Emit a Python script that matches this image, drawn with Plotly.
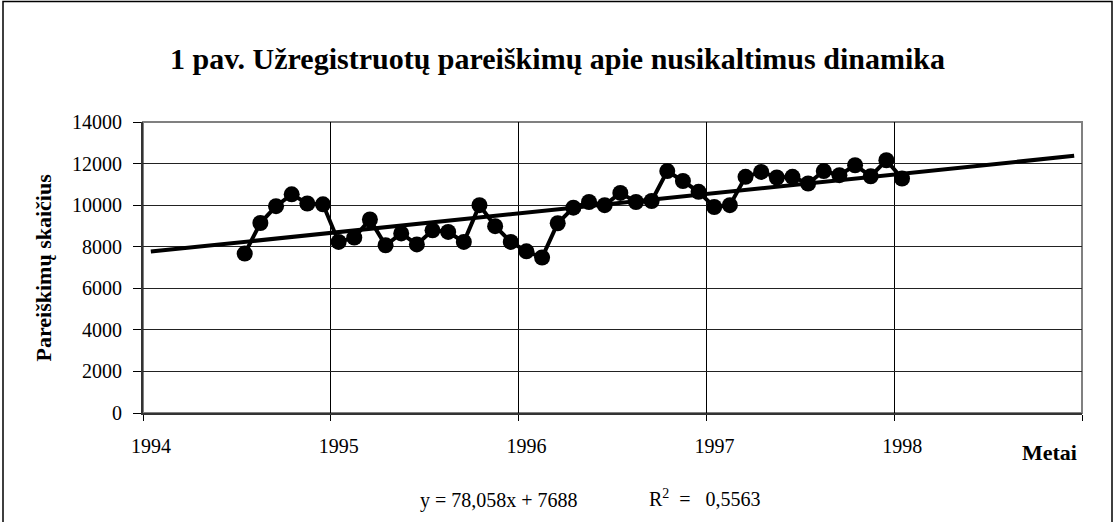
import plotly.graph_objects as go

# ---- data ----
start_year = 1994
first_month_index = 6          # July 1994 (0 = January 1994)
values = [7670, 9140, 9950, 10520, 10080, 10040,            # Jul-Dec 1994
          8230, 8440, 9310, 8070, 8640, 8110, 8790, 8710,   # 1995
          8230, 10000, 8990, 8230,
          7780, 7480, 9130, 9880, 10150, 10000, 10590,      # 1996
          10150, 10200, 11640, 11160, 10640,
          9910, 10000, 11360, 11600, 11330, 11360, 11040,  # 1997
          11640, 11440, 11920, 11390, 12160,
          11280]                                            # Jan 1998
n_categories = 60
trend_slope = 78.058
trend_intercept = 7688
r_squared = "0,5563"
year_ticks = [1994, 1995, 1996, 1997, 1998, 1999]
year_labels = ["1994", "1995", "1996", "1997", "1998", ""]

title_text = "1 pav. Užregistruotų pareiškimų apie nusikaltimus dinamika"
y_title = "Pareiškimų skaičius"
x_title = "Metai"

# category centres (monthly)
def month_pos(i):
    return start_year + (i + 0.5) / 12

x_data = [month_pos(first_month_index + j) for j in range(len(values))]
trend_k = [1, n_categories]
trend_x = [month_pos(k - 1) for k in trend_k]
trend_y = [trend_slope * k + trend_intercept for k in trend_k]

FONT = "Liberation Serif"

fig = go.Figure()
fig.add_trace(go.Scatter(
    x=trend_x, y=trend_y, mode="lines",
    line=dict(color="black", width=4), hoverinfo="skip", showlegend=False))
fig.add_trace(go.Scatter(
    x=x_data, y=values, mode="lines+markers",
    line=dict(color="black", width=4),
    marker=dict(color="black", size=16, symbol="circle"),
    showlegend=False))

L, R, T, B = 143, 33, 122, 109
W, H = 1115, 522
pw = W - L - R
ph = H - T - B

def px_x(px):
    return (px - L) / pw

def px_y(py):
    return (H - B - py) / ph

fig.update_layout(
    width=W, height=H,
    margin=dict(l=L, r=R, t=T, b=B, autoexpand=False),
    paper_bgcolor="white", plot_bgcolor="white",
    font=dict(family=FONT, color="black", size=20),
    title=dict(text="<b>" + title_text + "</b>", x=0.5, xref="container", xanchor="center",
               y=1 - 58 / H, yref="container", yanchor="middle",
               font=dict(family=FONT, size=30, color="black")),
    xaxis=dict(range=[1994, 1999], tickvals=year_ticks, ticktext=year_labels,
               ticks="outside", ticklen=6, tickcolor="black", tickwidth=1,
               ticklabelshift=8, ticklabelstandoff=8,
               showgrid=True, gridcolor="black", gridwidth=1,
               showline=True, linecolor="#333333", linewidth=2,
               zeroline=False, tickfont=dict(family=FONT, size=20)),
    yaxis=dict(range=[0, 14000], tickvals=list(range(0, 14001, 2000)),
               tickformat="d",
               ticks="outside", ticklen=8, tickcolor="black", tickwidth=1,
               ticklabelstandoff=7,
               showgrid=True, gridcolor="#222222", gridwidth=1,
               showline=True, linecolor="#333333", linewidth=2,
               zeroline=False, tickfont=dict(family=FONT, size=20)),
    shapes=[
        dict(type="rect", xref="paper", yref="paper", x0=0, y0=0, x1=1, y1=1,
             line=dict(color="#808080", width=2), layer="below"),
        dict(type="rect", xref="paper", yref="paper",
             x0=px_x(3), y0=px_y(540), x1=px_x(1112), y1=px_y(1.5),
             line=dict(color="black", width=1.5), layer="above"),
    ],
    annotations=[
        dict(text="<b>" + y_title + "</b>", xref="paper", yref="paper",
             x=px_x(43), y=0.5, textangle=-90, showarrow=False,
             xanchor="center", yanchor="middle",
             font=dict(family=FONT, size=22, color="black")),
        dict(text="<b>" + x_title + "</b>", xref="paper", yref="paper",
             x=px_x(1079), y=px_y(452), showarrow=False,
             xanchor="right", yanchor="middle",
             font=dict(family=FONT, size=22, color="black")),
        dict(text="y = " + f"{trend_slope:.3f}".replace(".", ",") + "x + " + str(trend_intercept),
             xref="paper", yref="paper", x=px_x(418), y=px_y(500), showarrow=False,
             xanchor="left", yanchor="middle",
             font=dict(family=FONT, size=20, color="black")),
        dict(text="R<sup>2</sup>&nbsp;&nbsp;=&nbsp;&nbsp;&nbsp;" + r_squared,
             xref="paper", yref="paper", x=px_x(647), y=px_y(498), showarrow=False,
             xanchor="left", yanchor="middle",
             font=dict(family=FONT, size=20, color="black")),
    ],
)

fig.write_html("out.html", config={"displayModeBar": False},
               post_script="document.body.style.margin='0';document.body.style.overflow='hidden';")
